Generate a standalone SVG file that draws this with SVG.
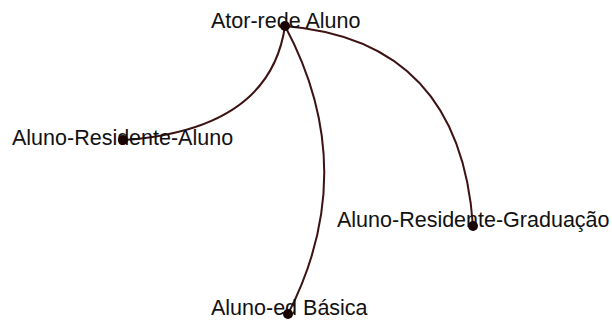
<svg xmlns="http://www.w3.org/2000/svg" width="612" height="320" viewBox="0 0 612 320">
<style>
.edge{fill:none;stroke:#3d1212;stroke-width:2}
.dot{fill:#1a0505}
.lbl{font-family:"Liberation Sans",Arial,sans-serif;font-size:21.5px;fill:#111}
</style>
<rect width="612" height="320" fill="#fff"/>
<g id="edges">
<path class="edge" d="M285,26 Q270,130 123,140"/>
<path class="edge" d="M285,26 Q362,170 288,314"/>
<path class="edge" d="M285,26 Q460,40 473,226"/>
</g>
<g id="n-hub"><text class="lbl" x="211" y="28">Ator-rede Aluno</text><circle class="dot" cx="285" cy="26" r="5"/></g>
<g id="n-ara"><text class="lbl" x="12" y="145">Aluno-Residente-Aluno</text><circle class="dot" cx="123" cy="140" r="5"/></g>
<g id="n-arg"><text class="lbl" x="337" y="227">Aluno-Residente-Graduação</text><circle class="dot" cx="473" cy="226" r="5"/></g>
<g id="n-aeb"><text class="lbl" x="211" y="315">Aluno-ed Básica</text><circle class="dot" cx="288" cy="314" r="5"/></g>
</svg>
